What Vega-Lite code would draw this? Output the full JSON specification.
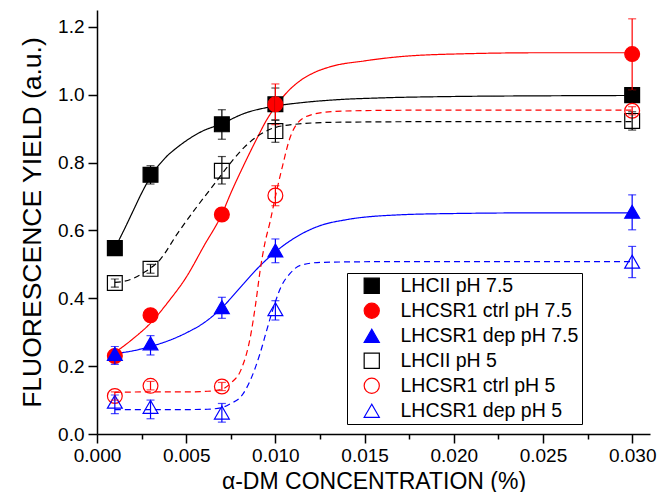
{
  "$schema": "https://vega.github.io/schema/vega-lite/v6.json",
  "width": 553,
  "height": 424,
  "autosize": {"type": "none"},
  "padding": {"left": 97, "top": 10, "right": 7, "bottom": 58},
  "background": "white",
  "config": {
    "view": {"stroke": null},
    "font": "Liberation Sans",
    "axis": {
      "domainColor": "black",
      "domainWidth": 1.5,
      "tickColor": "black",
      "tickWidth": 1.5,
      "labelFont": "Liberation Sans",
      "labelFontSize": 19,
      "labelColor": "black",
      "titleFont": "Liberation Sans",
      "titleFontWeight": "normal",
      "titleColor": "black",
      "grid": false
    },
    "legend": {
      "orient": "none",
      "legendX": 250,
      "legendY": 263,
      "strokeColor": "black",
      "fillColor": "white",
      "padding": 3,
      "rowPadding": 4,
      "symbolSize": 230,
      "symbolOffset": 12,
      "labelOffset": 19,
      "symbolStrokeWidth": 1.2,
      "labelFont": "Liberation Sans",
      "labelFontSize": 19.5,
      "labelColor": "black",
      "labelLimit": 0
    }
  },
  "datasets": {
    "curves": [
      {"protein": "LHCII", "ph": "7.5", "x": 0.001, "y": 0.548},
      {"protein": "LHCII", "ph": "7.5", "x": 0.0015, "y": 0.6},
      {"protein": "LHCII", "ph": "7.5", "x": 0.002, "y": 0.655},
      {"protein": "LHCII", "ph": "7.5", "x": 0.0025, "y": 0.71},
      {"protein": "LHCII", "ph": "7.5", "x": 0.003, "y": 0.758},
      {"protein": "LHCII", "ph": "7.5", "x": 0.0039, "y": 0.818},
      {"protein": "LHCII", "ph": "7.5", "x": 0.0045, "y": 0.845},
      {"protein": "LHCII", "ph": "7.5", "x": 0.0058, "y": 0.89},
      {"protein": "LHCII", "ph": "7.5", "x": 0.007, "y": 0.915},
      {"protein": "LHCII", "ph": "7.5", "x": 0.00825, "y": 0.945},
      {"protein": "LHCII", "ph": "7.5", "x": 0.0099, "y": 0.966},
      {"protein": "LHCII", "ph": "7.5", "x": 0.0115, "y": 0.977},
      {"protein": "LHCII", "ph": "7.5", "x": 0.0133, "y": 0.985},
      {"protein": "LHCII", "ph": "7.5", "x": 0.016, "y": 0.991},
      {"protein": "LHCII", "ph": "7.5", "x": 0.02, "y": 0.995},
      {"protein": "LHCII", "ph": "7.5", "x": 0.025, "y": 0.997},
      {"protein": "LHCII", "ph": "7.5", "x": 0.03, "y": 0.998},

      {"protein": "LHCSR1 ctrl", "ph": "7.5", "x": 0.001, "y": 0.24},
      {"protein": "LHCSR1 ctrl", "ph": "7.5", "x": 0.002, "y": 0.28},
      {"protein": "LHCSR1 ctrl", "ph": "7.5", "x": 0.003, "y": 0.327},
      {"protein": "LHCSR1 ctrl", "ph": "7.5", "x": 0.004, "y": 0.39},
      {"protein": "LHCSR1 ctrl", "ph": "7.5", "x": 0.005, "y": 0.462},
      {"protein": "LHCSR1 ctrl", "ph": "7.5", "x": 0.006, "y": 0.555},
      {"protein": "LHCSR1 ctrl", "ph": "7.5", "x": 0.007, "y": 0.648},
      {"protein": "LHCSR1 ctrl", "ph": "7.5", "x": 0.0075, "y": 0.71},
      {"protein": "LHCSR1 ctrl", "ph": "7.5", "x": 0.00825, "y": 0.795},
      {"protein": "LHCSR1 ctrl", "ph": "7.5", "x": 0.009, "y": 0.875},
      {"protein": "LHCSR1 ctrl", "ph": "7.5", "x": 0.0095, "y": 0.925},
      {"protein": "LHCSR1 ctrl", "ph": "7.5", "x": 0.01, "y": 0.965},
      {"protein": "LHCSR1 ctrl", "ph": "7.5", "x": 0.0107, "y": 1.01},
      {"protein": "LHCSR1 ctrl", "ph": "7.5", "x": 0.0114, "y": 1.042},
      {"protein": "LHCSR1 ctrl", "ph": "7.5", "x": 0.0122, "y": 1.066},
      {"protein": "LHCSR1 ctrl", "ph": "7.5", "x": 0.0131, "y": 1.083},
      {"protein": "LHCSR1 ctrl", "ph": "7.5", "x": 0.015, "y": 1.1},
      {"protein": "LHCSR1 ctrl", "ph": "7.5", "x": 0.0169, "y": 1.112},
      {"protein": "LHCSR1 ctrl", "ph": "7.5", "x": 0.0206, "y": 1.121},
      {"protein": "LHCSR1 ctrl", "ph": "7.5", "x": 0.025, "y": 1.124},
      {"protein": "LHCSR1 ctrl", "ph": "7.5", "x": 0.03, "y": 1.124},

      {"protein": "LHCSR1 dep", "ph": "7.5", "x": 0.001, "y": 0.237},
      {"protein": "LHCSR1 dep", "ph": "7.5", "x": 0.002, "y": 0.245},
      {"protein": "LHCSR1 dep", "ph": "7.5", "x": 0.003, "y": 0.258},
      {"protein": "LHCSR1 dep", "ph": "7.5", "x": 0.004, "y": 0.275},
      {"protein": "LHCSR1 dep", "ph": "7.5", "x": 0.005, "y": 0.298},
      {"protein": "LHCSR1 dep", "ph": "7.5", "x": 0.006, "y": 0.328},
      {"protein": "LHCSR1 dep", "ph": "7.5", "x": 0.007, "y": 0.372},
      {"protein": "LHCSR1 dep", "ph": "7.5", "x": 0.008, "y": 0.43},
      {"protein": "LHCSR1 dep", "ph": "7.5", "x": 0.0092, "y": 0.499},
      {"protein": "LHCSR1 dep", "ph": "7.5", "x": 0.01, "y": 0.537},
      {"protein": "LHCSR1 dep", "ph": "7.5", "x": 0.0114, "y": 0.588},
      {"protein": "LHCSR1 dep", "ph": "7.5", "x": 0.01255, "y": 0.615},
      {"protein": "LHCSR1 dep", "ph": "7.5", "x": 0.014, "y": 0.632},
      {"protein": "LHCSR1 dep", "ph": "7.5", "x": 0.0169, "y": 0.646},
      {"protein": "LHCSR1 dep", "ph": "7.5", "x": 0.02, "y": 0.65},
      {"protein": "LHCSR1 dep", "ph": "7.5", "x": 0.025, "y": 0.652},
      {"protein": "LHCSR1 dep", "ph": "7.5", "x": 0.03, "y": 0.652},

      {"protein": "LHCII", "ph": "5", "x": 0.001, "y": 0.447},
      {"protein": "LHCII", "ph": "5", "x": 0.0015, "y": 0.45},
      {"protein": "LHCII", "ph": "5", "x": 0.002, "y": 0.458},
      {"protein": "LHCII", "ph": "5", "x": 0.0026, "y": 0.475},
      {"protein": "LHCII", "ph": "5", "x": 0.00355, "y": 0.515},
      {"protein": "LHCII", "ph": "5", "x": 0.0045, "y": 0.59},
      {"protein": "LHCII", "ph": "5", "x": 0.0056, "y": 0.67},
      {"protein": "LHCII", "ph": "5", "x": 0.0067, "y": 0.745},
      {"protein": "LHCII", "ph": "5", "x": 0.0075, "y": 0.8},
      {"protein": "LHCII", "ph": "5", "x": 0.00825, "y": 0.845},
      {"protein": "LHCII", "ph": "5", "x": 0.009, "y": 0.878},
      {"protein": "LHCII", "ph": "5", "x": 0.0096, "y": 0.896},
      {"protein": "LHCII", "ph": "5", "x": 0.0109, "y": 0.912},
      {"protein": "LHCII", "ph": "5", "x": 0.0133, "y": 0.919},
      {"protein": "LHCII", "ph": "5", "x": 0.02, "y": 0.921},
      {"protein": "LHCII", "ph": "5", "x": 0.03, "y": 0.921},

      {"protein": "LHCSR1 ctrl", "ph": "5", "x": 0.001, "y": 0.123},
      {"protein": "LHCSR1 ctrl", "ph": "5", "x": 0.003, "y": 0.124},
      {"protein": "LHCSR1 ctrl", "ph": "5", "x": 0.005, "y": 0.124},
      {"protein": "LHCSR1 ctrl", "ph": "5", "x": 0.0062, "y": 0.126},
      {"protein": "LHCSR1 ctrl", "ph": "5", "x": 0.007, "y": 0.132},
      {"protein": "LHCSR1 ctrl", "ph": "5", "x": 0.0075, "y": 0.15},
      {"protein": "LHCSR1 ctrl", "ph": "5", "x": 0.00807, "y": 0.189},
      {"protein": "LHCSR1 ctrl", "ph": "5", "x": 0.0086, "y": 0.287},
      {"protein": "LHCSR1 ctrl", "ph": "5", "x": 0.0089, "y": 0.386},
      {"protein": "LHCSR1 ctrl", "ph": "5", "x": 0.00915, "y": 0.484},
      {"protein": "LHCSR1 ctrl", "ph": "5", "x": 0.0094, "y": 0.56},
      {"protein": "LHCSR1 ctrl", "ph": "5", "x": 0.0097, "y": 0.625},
      {"protein": "LHCSR1 ctrl", "ph": "5", "x": 0.01, "y": 0.7},
      {"protein": "LHCSR1 ctrl", "ph": "5", "x": 0.0104, "y": 0.79},
      {"protein": "LHCSR1 ctrl", "ph": "5", "x": 0.01078, "y": 0.867},
      {"protein": "LHCSR1 ctrl", "ph": "5", "x": 0.01125, "y": 0.917},
      {"protein": "LHCSR1 ctrl", "ph": "5", "x": 0.012, "y": 0.941},
      {"protein": "LHCSR1 ctrl", "ph": "5", "x": 0.0133, "y": 0.951},
      {"protein": "LHCSR1 ctrl", "ph": "5", "x": 0.016, "y": 0.954},
      {"protein": "LHCSR1 ctrl", "ph": "5", "x": 0.02, "y": 0.955},
      {"protein": "LHCSR1 ctrl", "ph": "5", "x": 0.03, "y": 0.955},

      {"protein": "LHCSR1 dep", "ph": "5", "x": 0.001, "y": 0.072},
      {"protein": "LHCSR1 dep", "ph": "5", "x": 0.003, "y": 0.072},
      {"protein": "LHCSR1 dep", "ph": "5", "x": 0.005, "y": 0.072},
      {"protein": "LHCSR1 dep", "ph": "5", "x": 0.0062, "y": 0.073},
      {"protein": "LHCSR1 dep", "ph": "5", "x": 0.007, "y": 0.078},
      {"protein": "LHCSR1 dep", "ph": "5", "x": 0.0075, "y": 0.09},
      {"protein": "LHCSR1 dep", "ph": "5", "x": 0.00807, "y": 0.11},
      {"protein": "LHCSR1 dep", "ph": "5", "x": 0.0086, "y": 0.159},
      {"protein": "LHCSR1 dep", "ph": "5", "x": 0.00915, "y": 0.239},
      {"protein": "LHCSR1 dep", "ph": "5", "x": 0.00952, "y": 0.307},
      {"protein": "LHCSR1 dep", "ph": "5", "x": 0.0098, "y": 0.357},
      {"protein": "LHCSR1 dep", "ph": "5", "x": 0.0103, "y": 0.432},
      {"protein": "LHCSR1 dep", "ph": "5", "x": 0.01085, "y": 0.475},
      {"protein": "LHCSR1 dep", "ph": "5", "x": 0.0114, "y": 0.497},
      {"protein": "LHCSR1 dep", "ph": "5", "x": 0.01255, "y": 0.506},
      {"protein": "LHCSR1 dep", "ph": "5", "x": 0.016, "y": 0.508},
      {"protein": "LHCSR1 dep", "ph": "5", "x": 0.03, "y": 0.508}
    ],
    "points": [
      {"series": "LHCII pH 7.5", "x": 0.001, "y": 0.548},
      {"series": "LHCII pH 7.5", "x": 0.003, "y": 0.764},
      {"series": "LHCII pH 7.5", "x": 0.007, "y": 0.913},
      {"series": "LHCII pH 7.5", "x": 0.01, "y": 0.972},
      {"series": "LHCII pH 7.5", "x": 0.03, "y": 0.999},
      {"series": "LHCSR1 ctrl pH 7.5", "x": 0.001, "y": 0.23},
      {"series": "LHCSR1 ctrl pH 7.5", "x": 0.003, "y": 0.35},
      {"series": "LHCSR1 ctrl pH 7.5", "x": 0.007, "y": 0.647},
      {"series": "LHCSR1 ctrl pH 7.5", "x": 0.01, "y": 0.972},
      {"series": "LHCSR1 ctrl pH 7.5", "x": 0.03, "y": 1.12},
      {"series": "LHCSR1 dep pH 7.5", "x": 0.001, "y": 0.236},
      {"series": "LHCSR1 dep pH 7.5", "x": 0.003, "y": 0.267},
      {"series": "LHCSR1 dep pH 7.5", "x": 0.007, "y": 0.374},
      {"series": "LHCSR1 dep pH 7.5", "x": 0.01, "y": 0.541},
      {"series": "LHCSR1 dep pH 7.5", "x": 0.03, "y": 0.655},
      {"series": "LHCII pH 5", "x": 0.001, "y": 0.445},
      {"series": "LHCII pH 5", "x": 0.003, "y": 0.487},
      {"series": "LHCII pH 5", "x": 0.007, "y": 0.776},
      {"series": "LHCII pH 5", "x": 0.01, "y": 0.893},
      {"series": "LHCII pH 5", "x": 0.03, "y": 0.923},
      {"series": "LHCSR1 ctrl pH 5", "x": 0.001, "y": 0.112},
      {"series": "LHCSR1 ctrl pH 5", "x": 0.003, "y": 0.142},
      {"series": "LHCSR1 ctrl pH 5", "x": 0.007, "y": 0.14},
      {"series": "LHCSR1 ctrl pH 5", "x": 0.01, "y": 0.703},
      {"series": "LHCSR1 ctrl pH 5", "x": 0.03, "y": 0.953},
      {"series": "LHCSR1 dep pH 5", "x": 0.001, "y": 0.095},
      {"series": "LHCSR1 dep pH 5", "x": 0.003, "y": 0.08},
      {"series": "LHCSR1 dep pH 5", "x": 0.007, "y": 0.063},
      {"series": "LHCSR1 dep pH 5", "x": 0.01, "y": 0.368},
      {"series": "LHCSR1 dep pH 5", "x": 0.03, "y": 0.508}
    ],
    "errs": [
      {"protein": "LHCII", "ph": "7.5", "x": 0.003, "lo": 0.737, "hi": 0.791},
      {"protein": "LHCII", "ph": "7.5", "x": 0.007, "lo": 0.869, "hi": 0.956},
      {"protein": "LHCII", "ph": "7.5", "x": 0.01, "lo": 0.925, "hi": 1.02},
      {"protein": "LHCII", "ph": "7.5", "x": 0.03, "lo": 0.983, "hi": 1.015},
      {"protein": "LHCSR1 ctrl", "ph": "7.5", "x": 0.01, "lo": 0.912, "hi": 1.032},
      {"protein": "LHCSR1 ctrl", "ph": "7.5", "x": 0.03, "lo": 1.015, "hi": 1.224},
      {"protein": "LHCSR1 dep", "ph": "7.5", "x": 0.001, "lo": 0.205, "hi": 0.258},
      {"protein": "LHCSR1 dep", "ph": "7.5", "x": 0.003, "lo": 0.233, "hi": 0.29},
      {"protein": "LHCSR1 dep", "ph": "7.5", "x": 0.007, "lo": 0.341, "hi": 0.403},
      {"protein": "LHCSR1 dep", "ph": "7.5", "x": 0.01, "lo": 0.505, "hi": 0.575},
      {"protein": "LHCSR1 dep", "ph": "7.5", "x": 0.03, "lo": 0.602, "hi": 0.705},
      {"protein": "LHCII", "ph": "5", "x": 0.001, "lo": 0.433, "hi": 0.457},
      {"protein": "LHCII", "ph": "5", "x": 0.003, "lo": 0.474, "hi": 0.5},
      {"protein": "LHCII", "ph": "5", "x": 0.007, "lo": 0.737, "hi": 0.818},
      {"protein": "LHCII", "ph": "5", "x": 0.01, "lo": 0.86, "hi": 0.926},
      {"protein": "LHCII", "ph": "5", "x": 0.03, "lo": 0.896, "hi": 0.95},
      {"protein": "LHCSR1 ctrl", "ph": "5", "x": 0.001, "lo": 0.1, "hi": 0.124},
      {"protein": "LHCSR1 ctrl", "ph": "5", "x": 0.003, "lo": 0.13, "hi": 0.155},
      {"protein": "LHCSR1 ctrl", "ph": "5", "x": 0.007, "lo": 0.128, "hi": 0.152},
      {"protein": "LHCSR1 ctrl", "ph": "5", "x": 0.01, "lo": 0.673, "hi": 0.732},
      {"protein": "LHCSR1 ctrl", "ph": "5", "x": 0.03, "lo": 0.941, "hi": 0.965},
      {"protein": "LHCSR1 dep", "ph": "5", "x": 0.001, "lo": 0.06, "hi": 0.115},
      {"protein": "LHCSR1 dep", "ph": "5", "x": 0.003, "lo": 0.045, "hi": 0.1},
      {"protein": "LHCSR1 dep", "ph": "5", "x": 0.007, "lo": 0.035, "hi": 0.09},
      {"protein": "LHCSR1 dep", "ph": "5", "x": 0.01, "lo": 0.336, "hi": 0.393},
      {"protein": "LHCSR1 dep", "ph": "5", "x": 0.03, "lo": 0.461, "hi": 0.553}
    ]
  },
  "layer": [
    {
      "data": {"name": "curves"},
      "mark": {"type": "line", "strokeWidth": 1.2, "interpolate": "monotone", "clip": true},
      "encoding": {
        "x": {
          "field": "x", "type": "quantitative",
          "title": "α-DM CONCENTRATION (%)",
          "scale": {"domain": [0, 0.031], "nice": false, "zero": false},
          "axis": {
            "titleFontSize": 23,
            "titlePadding": 5,
            "values": [0, 0.0025, 0.005, 0.0075, 0.01, 0.0125, 0.015, 0.0175, 0.02, 0.0225, 0.025, 0.0275, 0.03],
            "labelExpr": "round(datum.value*1000) % 5 == 0 ? format(datum.value, '.3f') : ''",
            "tickSize": {"condition": {"test": "round(datum.value*1000) % 5 == 0", "value": 9}, "value": 5},
            "labelPadding": 3,
            "labelFlush": false,
            "labelOverlap": false
          }
        },
        "y": {
          "field": "y", "type": "quantitative",
          "title": "FLUORESCENCE YIELD (a.u.)",
          "scale": {"domain": [0, 1.25], "nice": false, "zero": false},
          "axis": {
            "titleFontSize": 26.5,
            "titlePadding": 11,
            "values": [0, 0.1, 0.2, 0.3, 0.4, 0.5, 0.6, 0.7, 0.8, 0.9, 1.0, 1.1, 1.2],
            "labelExpr": "round(datum.value*10) % 2 == 0 ? format(datum.value, '.1f') : ''",
            "tickSize": {"condition": {"test": "round(datum.value*10) % 2 == 0", "value": 9}, "value": 5},
            "labelPadding": 4,
            "labelFlush": false,
            "labelOverlap": false
          }
        },
        "detail": {"field": "ph"},
        "color": {
          "field": "protein", "type": "nominal",
          "scale": {
            "domain": ["LHCII", "LHCSR1 ctrl", "LHCSR1 dep"],
            "range": ["#000000", "#ff0000", "#0000ff"]
          },
          "legend": null
        },
        "strokeDash": {
          "field": "ph", "type": "nominal",
          "scale": {"domain": ["7.5", "5"], "range": [[1, 0], [6, 4]]},
          "legend": null
        }
      }
    },
    {
      "data": {"name": "points"},
      "mark": {"type": "point", "strokeWidth": 1.2, "opacity": 1},
      "encoding": {
        "x": {"field": "x", "type": "quantitative", "title": "α-DM CONCENTRATION (%)"},
        "y": {"field": "y", "type": "quantitative", "title": "FLUORESCENCE YIELD (a.u.)"},
        "shape": {
          "field": "series", "type": "nominal",
          "title": null,
          "scale": {
            "domain": ["LHCII pH 7.5", "LHCSR1 ctrl pH 7.5", "LHCSR1 dep pH 7.5", "LHCII pH 5", "LHCSR1 ctrl pH 5", "LHCSR1 dep pH 5"],
            "range": ["square", "circle", "triangle-up", "square", "circle", "triangle-up"]
          }
        },
        "stroke": {
          "field": "series", "type": "nominal",
          "title": null,
          "scale": {
            "domain": ["LHCII pH 7.5", "LHCSR1 ctrl pH 7.5", "LHCSR1 dep pH 7.5", "LHCII pH 5", "LHCSR1 ctrl pH 5", "LHCSR1 dep pH 5"],
            "range": ["#000000", "#ff0000", "#0000ff", "#000000", "#ff0000", "#0000ff"]
          }
        },
        "fill": {
          "field": "series", "type": "nominal",
          "title": null,
          "scale": {
            "domain": ["LHCII pH 7.5", "LHCSR1 ctrl pH 7.5", "LHCSR1 dep pH 7.5", "LHCII pH 5", "LHCSR1 ctrl pH 5", "LHCSR1 dep pH 5"],
            "range": ["#000000", "#ff0000", "#0000ff", "transparent", "transparent", "transparent"]
          }
        },
        "size": {"value": 220}
      }
    },
    {
      "data": {"name": "errs"},
      "mark": {"type": "errorbar", "ticks": {"size": 8}, "thickness": 1.2},
      "encoding": {
        "x": {"field": "x", "type": "quantitative", "title": "α-DM CONCENTRATION (%)"},
        "y": {"field": "lo", "type": "quantitative", "title": "FLUORESCENCE YIELD (a.u.)"},
        "y2": {"field": "hi"},
        "color": {
          "field": "protein", "type": "nominal",
          "legend": null
        }
      }
    }
  ]
}
